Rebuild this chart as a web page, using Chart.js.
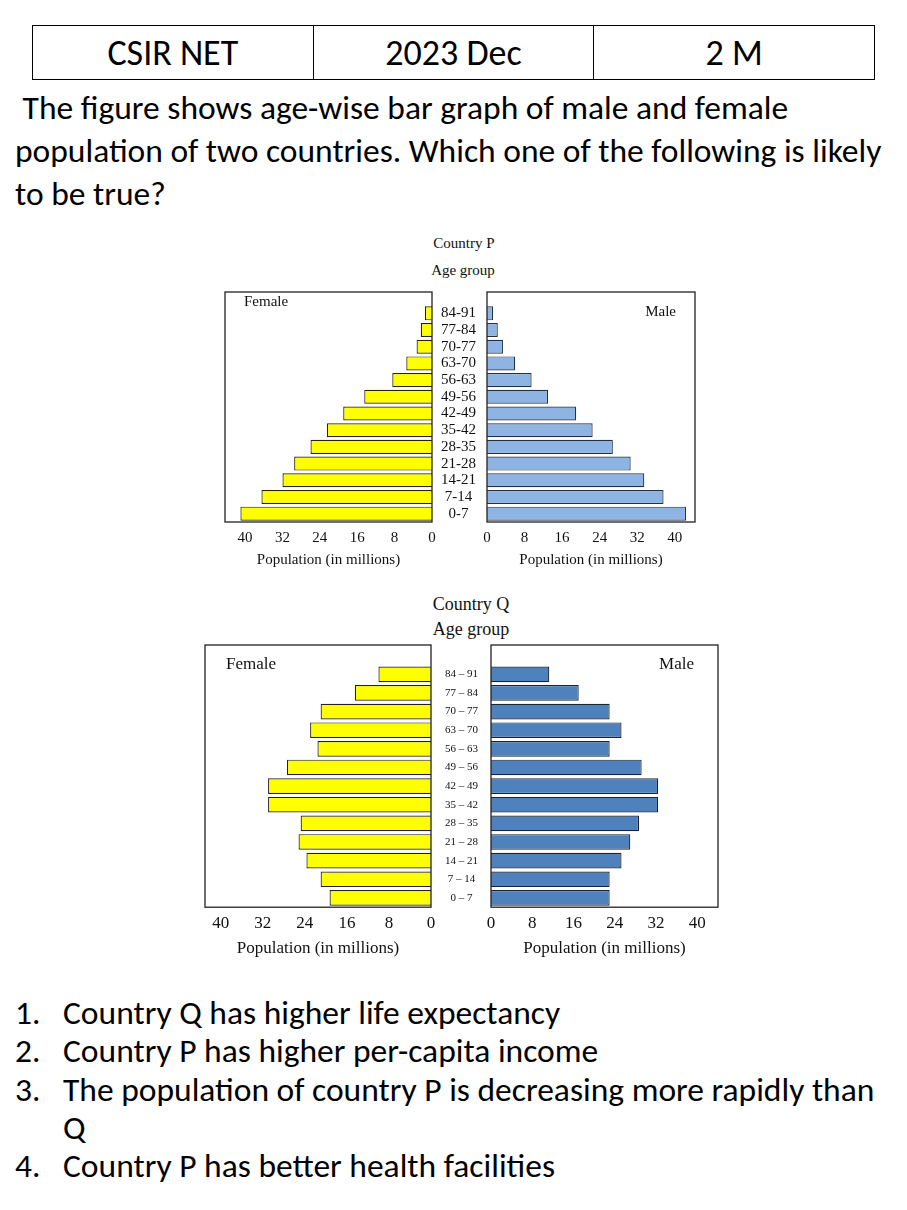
<!DOCTYPE html>
<html>
<head>
<meta charset="utf-8">
<script src="https://cdn.jsdelivr.net/npm/chart.js@4.4.1/dist/chart.umd.min.js"></script>
<style>
  body { margin: 0; width: 907px; height: 1210px; position: relative; background: #fff; overflow: hidden;
         font-family: Carlito, Lato, "Liberation Sans", sans-serif; color: #000; }
  .abs { position: absolute; white-space: nowrap; }
  table { position: absolute; left: 32px; top: 25px; width: 843px; height: 55px; border-collapse: collapse; }
  td { border: 1px solid #000; text-align: center; font-size: 36px; width: 33.3%; padding: 0; }
  .question { left: 15px; top: 86px; font-size: 33.5px; line-height: 43px; }
  .cap { font-family: "Liberation Serif", serif; transform: translateX(-50%); color: #111; }
  .opt { font-size: 33.5px; line-height: 40px; }
  canvas { position: absolute; }
</style>
</head>
<body>
<table><tr><td>CSIR NET</td><td>2023 Dec</td><td>2 M</td></tr></table>
<div class="abs question">&nbsp;The figure shows age-wise bar graph of male and female<br>population of two countries. Which one of the following is likely<br>to be true?</div>

<div class="abs cap" style="left:464px;top:236px;font-size:15px;line-height:15px">Country P</div>
<div class="abs cap" style="left:463px;top:263px;font-size:15px;line-height:15px">Age group</div>
<div class="abs cap" style="left:471px;top:595px;font-size:18px;line-height:18px">Country Q</div>
<div class="abs cap" style="left:471px;top:620px;font-size:18px;line-height:18px">Age group</div>

<canvas id="pFemale"></canvas>
<canvas id="pMale"></canvas>
<canvas id="qFemale"></canvas>
<canvas id="qMale"></canvas>

<div class="abs opt" style="left:15px;top:993px">1.</div><div class="abs opt" style="left:63px;top:993px">Country Q has higher life expectancy</div>
<div class="abs opt" style="left:15px;top:1031px">2.</div><div class="abs opt" style="left:63px;top:1031px">Country P has higher per-capita income</div>
<div class="abs opt" style="left:15px;top:1070px">3.</div><div class="abs opt" style="left:63px;top:1070px">The population of country P is decreasing more rapidly than</div>
<div class="abs opt" style="left:63px;top:1108px">Q</div>
<div class="abs opt" style="left:15px;top:1146px">4.</div><div class="abs opt" style="left:63px;top:1146px">Country P has better health facilities</div>

<script>
// age groups, top of the pyramid first
const AGE_P = ['84-91', '77-84', '70-77', '63-70', '56-63', '49-56', '42-49', '35-42', '28-35', '21-28', '14-21', '7-14', '0-7'];
const AGE_Q = ['84 – 91', '77 – 84', '70 – 77', '63 – 70', '56 – 63', '49 – 56', '42 – 49', '35 – 42', '28 – 35', '21 – 28', '14 – 21', '7 – 14', '0 – 7'];

// population in millions, same order as the age groups
const P_FEMALE = [1.5, 2.4, 3.3, 5.5, 8.5, 14.5, 19, 22.5, 26, 29.5, 32, 36.5, 41];
const P_MALE = [1.3, 2.3, 3.4, 6, 9.5, 13, 19, 22.5, 26.8, 30.6, 33.5, 37.6, 42.4];
const Q_FEMALE = [10, 14.5, 21, 23, 21.6, 27.4, 31, 31, 24.8, 25.2, 23.7, 21, 19.3];
const Q_MALE = [11.3, 17, 23, 25.3, 23, 29.2, 32.4, 32.4, 28.7, 27, 25.3, 23, 23];

const X_TICKS = [0, 8, 16, 24, 32, 40];
const SERIF = '"Liberation Serif", "DejaVu Serif", serif';

// box round the plot plus the Female / Male tag
const framePlugin = {
  id: 'frame',
  afterDraw(chart, args, opts) {
    const { ctx, chartArea: a } = chart;
    const top = a.top - opts.extraTop;
    ctx.save();
    ctx.strokeStyle = '#222';
    ctx.lineWidth = 1.3;
    ctx.strokeRect(a.left, top, a.right - a.left, a.bottom - top);
    ctx.fillStyle = '#111';
    ctx.font = opts.font;
    ctx.textBaseline = 'middle';
    ctx.textAlign = opts.align;
    const x = opts.align === 'left' ? a.left + opts.dx : a.right - opts.dx;
    ctx.fillText(opts.label, x, top + opts.dy);
    ctx.restore();
  }
};

function sideConfig(o) {
  return {
    type: 'bar',
    data: {
      labels: o.labels,
      datasets: [{
        data: o.values,
        backgroundColor: o.fill,
        borderColor: o.stroke,
        borderWidth: 1.2,
        barPercentage: o.bar,
        categoryPercentage: 1
      }]
    },
    options: {
      indexAxis: 'y',
      responsive: false,
      animation: false,
      layout: { padding: { top: o.frame.extraTop + 3, left: 10, right: 10, bottom: 2 } },
      plugins: {
        legend: { display: false },
        tooltip: { enabled: false },
        frame: o.frame
      },
      scales: {
        x: {
          reverse: o.female,
          min: 0,
          max: o.max,
          grid: { display: false, drawTicks: false },
          border: { display: false },
          afterBuildTicks: s => { s.ticks = X_TICKS.map(v => ({ value: v })); },
          ticks: { font: { family: SERIF, size: o.tickSize }, color: '#111', padding: o.tickPad, maxRotation: 0 },
          title: {
            display: true,
            text: 'Population (in millions)',
            font: { family: SERIF, size: o.titleSize },
            color: '#111',
            padding: { top: o.titlePad, bottom: 0 }
          }
        },
        y: {
          display: !o.female,
          grid: { display: false, drawTicks: false },
          border: { display: false },
          ticks: {
            font: { family: SERIF, size: o.ageSize }, color: '#111',
            crossAlign: 'center', padding: o.agePad, autoSkip: false
          },
          afterFit: s => { s.width = o.gap; }
        }
      }
    },
    plugins: [framePlugin]
  };
}

// draw once to measure, then resize the canvas so the plot area sits on the box
function drawSide(id, o, box) {
  const cv = document.getElementById(id);
  cv.width = 320; cv.height = 320;
  let chart = new Chart(cv, sideConfig(o));
  const a = chart.chartArea;
  const w = 320 + (box.r - box.l) - (a.right - a.left);
  const h = 320 + (box.b - box.t) - (a.bottom - a.top);
  chart.destroy();
  cv.width = Math.round(w); cv.height = Math.round(h);
  chart = new Chart(cv, sideConfig(o));
  cv.style.left = (box.l - chart.chartArea.left) + 'px';
  cv.style.top = (box.t - chart.chartArea.top) + 'px';
}

const pCommon = { labels: AGE_P, max: 44.3, bar: 0.84, tickSize: 15, tickPad: 7, titleSize: 15, titlePad: -3, ageSize: 15, agePad: 11, gap: 55 };
drawSide('pFemale', Object.assign({}, pCommon, {
  values: P_FEMALE, female: true, fill: '#FFFF00', stroke: '#262600',
  frame: { extraTop: 13, label: 'Female', align: 'left', dx: 19, dy: 10, font: '15px ' + SERIF }
}), { l: 225, r: 432, t: 305, b: 522 });
drawSide('pMale', Object.assign({}, pCommon, {
  values: P_MALE, female: false, fill: '#8EB4E3', stroke: '#25303F',
  frame: { extraTop: 13, label: 'Male', align: 'right', dx: 19, dy: 20, font: '15px ' + SERIF }
}), { l: 487, r: 695, t: 305, b: 522 });

const qCommon = { labels: AGE_Q, bar: 0.84, tickSize: 17, tickPad: 6, titleSize: 17, titlePad: -1, ageSize: 11, agePad: 13, gap: 60 };
drawSide('qFemale', Object.assign({}, qCommon, {
  values: Q_FEMALE, female: true, max: 43, fill: '#FFFF00', stroke: '#222',
  frame: { extraTop: 20, label: 'Female', align: 'left', dx: 21, dy: 20, font: '17px ' + SERIF }
}), { l: 205, r: 431, t: 665, b: 907 });
drawSide('qMale', Object.assign({}, qCommon, {
  values: Q_MALE, female: false, max: 44, fill: '#4F81BD', stroke: '#1A2233',
  frame: { extraTop: 20, label: 'Male', align: 'right', dx: 24, dy: 20, font: '17px ' + SERIF }
}), { l: 491, r: 718, t: 665, b: 907 });
</script>
</body>
</html>
